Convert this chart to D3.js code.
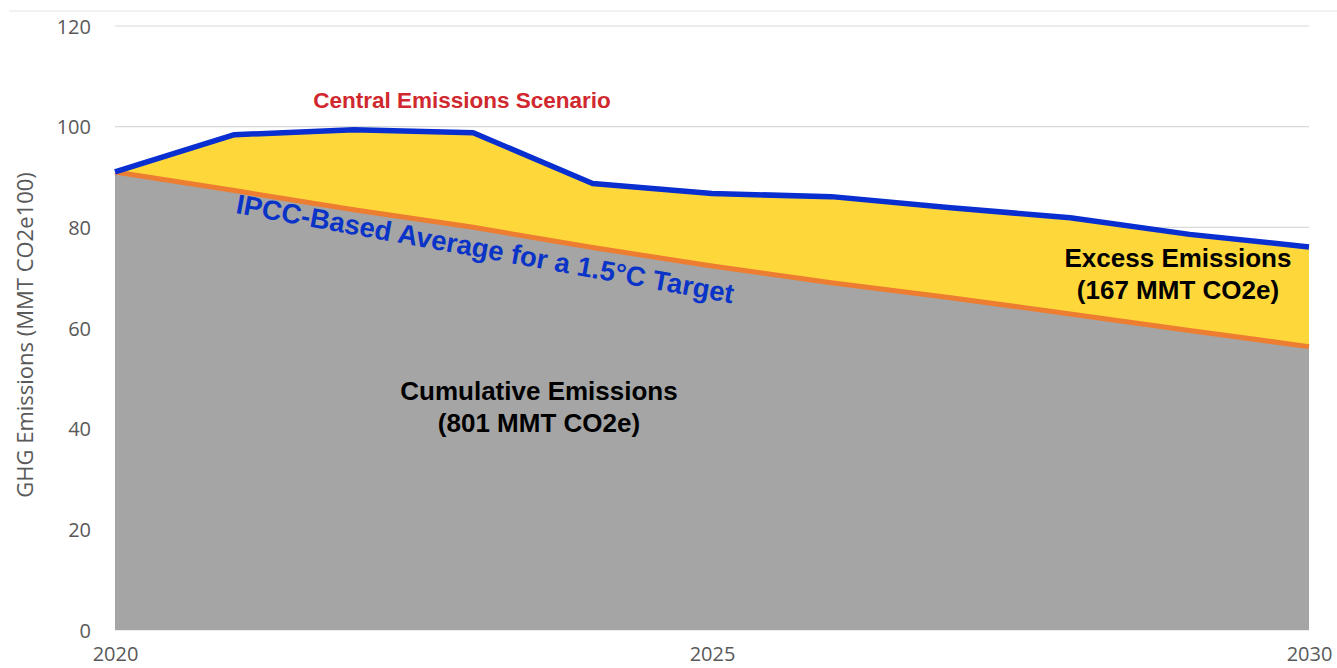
<!DOCTYPE html>
<html lang="en">
<head>
<meta charset="UTF-8">
<title>GHG Emissions</title>
<script src="https://d3js.org/d3.v7.min.js"></script>
<style>
  body { margin: 0; background: #fff; }
  .tick-label { font-family: "Open Sans", sans-serif; font-size: 20px; fill: #595959; }
  .note { font-family: "Liberation Sans", Arial, sans-serif; font-weight: bold; }
</style>
</head>
<body>
<svg width="1337" height="668"></svg>
<script>
const years = [2020, 2021, 2022, 2023, 2024, 2025, 2026, 2027, 2028, 2029, 2030];
const central = [91.0, 98.4, 99.4, 98.8, 88.7, 86.7, 86.1, 83.9, 81.9, 78.6, 76.1];
const ipcc = [91.0, 87.3, 83.5, 80.0, 76.0, 72.3, 69.0, 66.0, 62.8, 59.5, 56.3];
const yTicks = [0, 20, 40, 60, 80, 100, 120];
const xTicks = [2020, 2025, 2030];

const svg = d3.select("svg");
const W = 1337, H = 668;
const plotL = 115, plotR = 1309, plotT = 26, plotB = 630;

const x = d3.scaleLinear().domain([2020, 2030]).range([plotL, plotR]);
const y = d3.scaleLinear().domain([0, 120]).range([plotB, plotT]);

const data = years.map((yr, i) => ({ yr, c: central[i], p: ipcc[i] }));

// faint frame line at the top
svg.append("line").attr("x1", 9).attr("x2", W).attr("y1", 11).attr("y2", 11)
  .attr("stroke", "#e3e3e3").attr("stroke-width", 1);

// gridlines
svg.append("g").selectAll("line").data(yTicks).enter().append("line")
  .attr("x1", plotL).attr("x2", plotR)
  .attr("y1", d => y(d)).attr("y2", d => y(d))
  .attr("stroke", "#d9d9d9").attr("stroke-width", 1.2);

// areas
svg.append("path").datum(data)
  .attr("d", d3.area().x(d => x(d.yr)).y0(d => y(d.p)).y1(d => y(d.c)))
  .attr("fill", "#fed83b");
svg.append("path").datum(data)
  .attr("d", d3.area().x(d => x(d.yr)).y0(y(0)).y1(d => y(d.p)))
  .attr("fill", "#a5a5a5");

// lines
svg.append("path").datum(data)
  .attr("d", d3.line().x(d => x(d.yr)).y(d => y(d.p)))
  .attr("fill", "none").attr("stroke", "#ed7d31").attr("stroke-width", 5);
svg.append("path").datum(data)
  .attr("d", d3.line().x(d => x(d.yr)).y(d => y(d.c)))
  .attr("fill", "none").attr("stroke", "#0a2fd0").attr("stroke-width", 5.5)
  .attr("stroke-linejoin", "round");

// y axis
const yAxis = svg.append("g").attr("transform", `translate(${plotL - 24},0)`)
  .call(d3.axisLeft(y).tickValues(yTicks).tickSize(0).tickPadding(0));
yAxis.select(".domain").remove();
yAxis.selectAll("text").attr("class", "tick-label").attr("dy", "0.35em").attr("font-size", null).attr("font-family", null);

// x axis
const xAxis = svg.append("g").attr("transform", `translate(0,${plotB})`)
  .call(d3.axisBottom(x).tickValues(xTicks).tickFormat(d3.format("d")).tickSize(0));
xAxis.select(".domain").remove();
xAxis.selectAll("text").attr("class", "tick-label").attr("font-size", null).attr("font-family", null)
  .attr("y", 31).attr("dy", 0);

svg.append("text").attr("class", "tick-label")
  .attr("transform", `translate(33,335) rotate(-90)`)
  .attr("text-anchor", "middle").style("font-size", "22px")
  .text("GHG Emissions (MMT CO2e100)");

// annotations
svg.append("text").attr("class", "note").attr("x", 462).attr("y", 108)
  .attr("text-anchor", "middle").attr("font-size", 22.5).attr("fill", "#d0282e")
  .text("Central Emissions Scenario");

svg.append("text").attr("class", "note")
  .attr("transform", "translate(235,213) rotate(10.3)")
  .attr("font-size", 27.5).attr("fill", "#0a33c8")
  .text("IPCC-Based Average for a 1.5°C Target");

const excess = svg.append("text").attr("class", "note").attr("text-anchor", "middle")
  .attr("font-size", 26).attr("fill", "#000");
excess.append("tspan").attr("x", 1178).attr("y", 267).text("Excess Emissions");
excess.append("tspan").attr("x", 1178).attr("y", 299).text("(167 MMT CO2e)");

const cum = svg.append("text").attr("class", "note").attr("text-anchor", "middle")
  .attr("font-size", 26).attr("fill", "#000");
cum.append("tspan").attr("x", 539).attr("y", 400).text("Cumulative Emissions");
cum.append("tspan").attr("x", 539).attr("y", 432).text("(801 MMT CO2e)");
</script>
</body>
</html>
